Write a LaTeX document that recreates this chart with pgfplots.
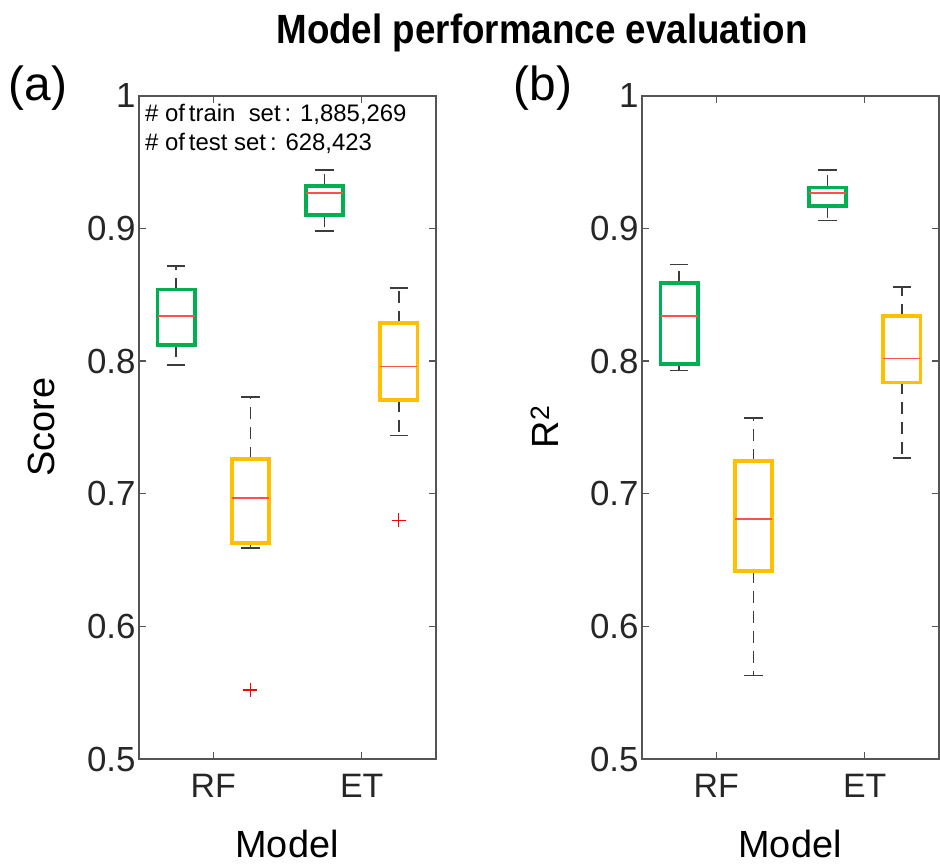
\documentclass[border=0pt]{standalone}
\usepackage{pgfplots}
\pgfplotsset{compat=1.18}
\usepgfplotslibrary{statistics}
\usepackage{fontspec}
\setmainfont{Liberation Sans}
\newfontfamily\titlefont[FakeStretch=0.9]{Liberation Sans}
\definecolor{bgreen}{RGB}{0,176,80}
\definecolor{byellow}{RGB}{255,192,0}
\definecolor{medred}{RGB}{255,80,80}
\definecolor{axgray}{RGB}{85,85,85}
\definecolor{whisk}{RGB}{60,60,60}

\pgfplotsset{
  boxplot/draw/lower whisker/.code={%
    \draw[/pgfplots/boxplot/every whisker/.try, dash pattern=on 12bp off 8bp]
      (boxplot box cs:\pgfplotsboxplotvalue{lower quartile},0.5) -- (boxplot box cs:\pgfplotsboxplotvalue{lower whisker},0.5);
    \draw[/pgfplots/boxplot/every whisker/.try]
      (boxplot whisker cs:\pgfplotsboxplotvalue{lower whisker},0) -- (boxplot whisker cs:\pgfplotsboxplotvalue{lower whisker},1);
  },
  boxplot/draw/upper whisker/.code={%
    \draw[/pgfplots/boxplot/every whisker/.try, dash pattern=on 12bp off 8bp]
      (boxplot box cs:\pgfplotsboxplotvalue{upper quartile},0.5) -- (boxplot box cs:\pgfplotsboxplotvalue{upper whisker},0.5);
    \draw[/pgfplots/boxplot/every whisker/.try]
      (boxplot whisker cs:\pgfplotsboxplotvalue{upper whisker},0) -- (boxplot whisker cs:\pgfplotsboxplotvalue{upper whisker},1);
  },
  gbox/.style={boxplot/draw direction=y, boxplot/box extend=0.25, boxplot/whisker extend=0.125,
    boxplot/every box/.style={draw=bgreen, line width=3.8bp, line join=miter},
    boxplot/every whisker/.style={draw=whisk, line width=1.6bp},
    boxplot/every median/.style={draw=medred, line width=1.6bp}},
  ybox/.style={boxplot/draw direction=y, boxplot/box extend=0.25, boxplot/whisker extend=0.125,
    boxplot/every box/.style={draw=byellow, line width=3.8bp, line join=miter},
    boxplot/every whisker/.style={draw=whisk, line width=1.6bp},
    boxplot/every median/.style={draw=medred, line width=1.6bp}},
  outl/.style={only marks, mark=+, mark size=7bp, mark options={red, line width=1.2bp}},
  panel/.style={scale only axis, width=297bp, height=663bp, anchor=south west,
    xmin=0.5, xmax=2.5, ymin=0.5, ymax=1,
    xtick={1,2}, xticklabels={RF,ET},
    ytick={0.5,0.6,0.7,0.8,0.9,1}, yticklabels={0.5,0.6,0.7,0.8,0.9,1},
    tick align=inside, major tick length=7bp,
    axis line style={axgray, line width=1.4bp},
    every tick/.style={axgray, line width=1.4bp},
    tick label style={font=\fontsize{34}{37}\selectfont, text=black!85},
    yticklabel style={font=\fontsize{35}{38}\selectfont},
    xticklabel style={yshift=-12bp},
    /pgf/number format/assume math mode=true, clip=false}
}

\begin{document}
\begin{tikzpicture}[x=1bp,y=1bp]
\path[use as bounding box] (0,0) rectangle (940,866);

\node[font=\titlefont\bfseries\fontsize{41}{45}\selectfont] at (542,833) {Model performance evaluation};
\node[font=\fontsize{48}{52}\selectfont] at (38,778) {(a)};
\node[font=\fontsize{48}{52}\selectfont] at (543,778) {(b)};
\node[font=\fontsize{38}{42}\selectfont, rotate=90] at (41,439) {Score};
\node[font=\fontsize{38}{42}\selectfont, rotate=90] at (545,439) {R\textsuperscript{2}};
\node[font=\fontsize{38}{42}\selectfont, inner sep=0pt] at (287,22) {Model};
\node[font=\fontsize{38}{42}\selectfont, inner sep=0pt] at (790,22) {Model};

% Panel (a)
\begin{axis}[panel, at={(139bp,107bp)}]
\addplot[gbox, boxplot prepared={draw position=0.75, lower whisker=0.797, lower quartile=0.812, median=0.834, upper quartile=0.854, upper whisker=0.872}] coordinates {};
\addplot[ybox, boxplot prepared={draw position=1.25, lower whisker=0.659, lower quartile=0.663, median=0.697, upper quartile=0.726, upper whisker=0.773}] coordinates {};
\addplot[gbox, boxplot prepared={draw position=1.75, lower whisker=0.898, lower quartile=0.910, median=0.927, upper quartile=0.932, upper whisker=0.944}] coordinates {};
\addplot[ybox, boxplot prepared={draw position=2.25, lower whisker=0.744, lower quartile=0.771, median=0.796, upper quartile=0.829, upper whisker=0.855}] coordinates {};
\addplot[outl] coordinates {(1.25,0.552) (2.25,0.680)};
\node[anchor=base west, font=\fontsize{24}{28}\selectfont, inner sep=0pt] at (axis cs:0.54,0.981) {\# of\,train\ \ set\,: 1,885,269};
\node[anchor=base west, font=\fontsize{24}{28}\selectfont, inner sep=0pt] at (axis cs:0.54,0.959) {\# of\,test set\,: 628,423};
\end{axis}

% Panel (b)
\begin{axis}[panel, at={(642bp,107bp)}]
\addplot[gbox, boxplot prepared={draw position=0.75, lower whisker=0.793, lower quartile=0.798, median=0.834, upper quartile=0.859, upper whisker=0.873}] coordinates {};
\addplot[ybox, boxplot prepared={draw position=1.25, lower whisker=0.563, lower quartile=0.642, median=0.681, upper quartile=0.725, upper whisker=0.757}] coordinates {};
\addplot[gbox, boxplot prepared={draw position=1.75, lower whisker=0.906, lower quartile=0.917, median=0.927, upper quartile=0.931, upper whisker=0.944}] coordinates {};
\addplot[ybox, boxplot prepared={draw position=2.25, lower whisker=0.727, lower quartile=0.784, median=0.802, upper quartile=0.834, upper whisker=0.856}] coordinates {};
\end{axis}
\end{tikzpicture}
\end{document}
